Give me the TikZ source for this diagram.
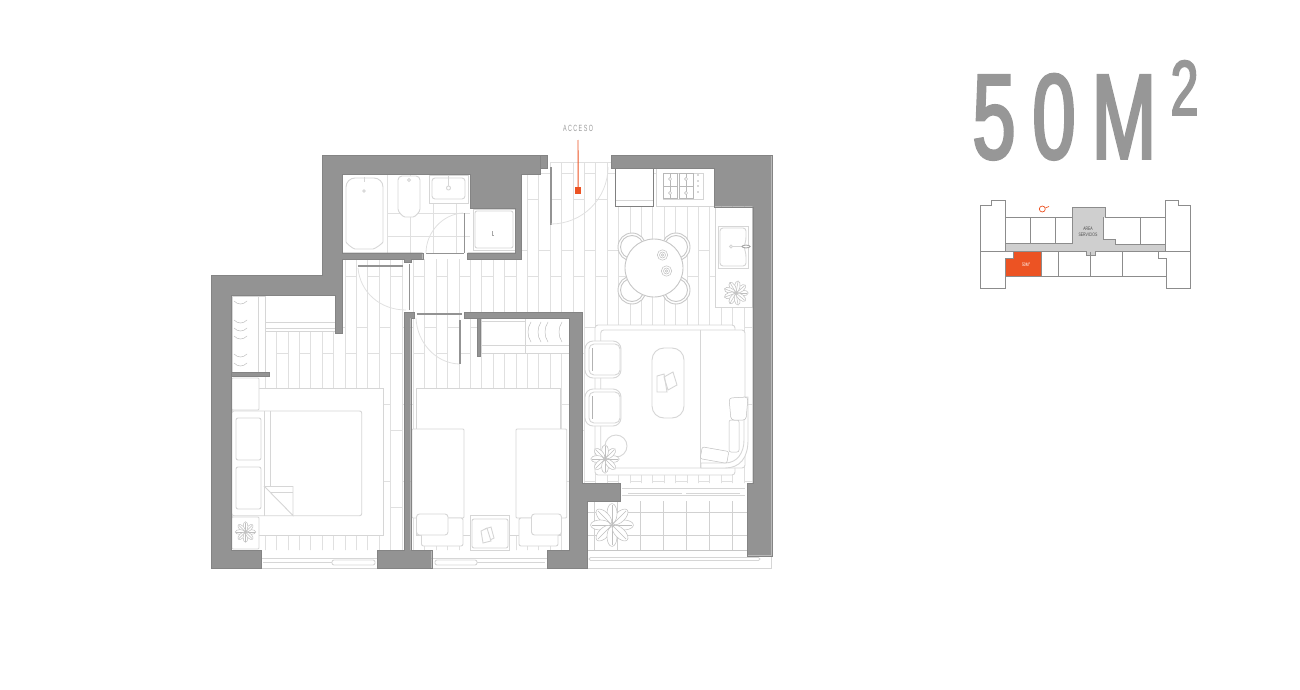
\documentclass[tikz,border=0pt]{standalone}
\usepackage{fontspec}
\setmainfont{Liberation Sans}
\newfontfamily\titlefont[FakeStretch=0.64,FakeBold=2.4]{Liberation Sans}
\newfontfamily\narrowfont[FakeStretch=0.6,LetterSpace=16]{Liberation Sans}
\newfontfamily\keyfont[FakeStretch=0.7]{Liberation Sans}
\definecolor{wallgray}{HTML}{939393}
\definecolor{titlegray}{HTML}{979797}
\definecolor{boardgray}{HTML}{E0E0E0}
\definecolor{furngray}{HTML}{D6D6D6}
\definecolor{keygray}{HTML}{8C8C8C}
\definecolor{servgray}{HTML}{CFCFCF}
\definecolor{accent}{HTML}{EC5323}
\tikzset{
  wall/.style={fill=wallgray, draw=wallgray!90!black, line width=0.4pt},
  board/.style={draw=boardgray, line width=1pt},
  furn/.style={draw=furngray, fill=white, line width=0.9pt},
  furnline/.style={draw=furngray, line width=0.9pt},
  doorleaf/.style={draw=wallgray, line width=1.6pt},
  doorarc/.style={draw=boardgray, line width=0.8pt},
  plantline/.style={draw=black!25, fill=white, line width=0.5pt},
  keyline/.style={draw=keygray, line width=0.9pt},
  titletext/.style={text=titlegray, anchor=base, inner sep=0pt},
}
\newcommand{\plantmark}[4]{%
  \foreach \a in {0,#4,...,359}{
    \draw[plantline, rotate around={\a:(#1,#2)}] (#1+#3*0.55,#2) ellipse ({#3*0.47} and {#3*0.24});
    \draw[plantline, rotate around={\a:(#1,#2)}] (#1,#2) -- (#1+#3*0.95,#2);
  }
}
\begin{document}
\begin{tikzpicture}[x=1pt, y=-1pt]
  \useasboundingbox (0,0) rectangle (1300,690);
  % Floor boards:
  \begin{scope}
    \clip (265,330) -- (342,330) -- (342,259) -- (521,259) -- (521,162) -- (752,162) -- (752,483) -- (582,483) -- (582,550) -- (265,550) -- cycle;
    \foreach \i in {-7,...,35}{
      \pgfmathsetmacro{\xa}{345+11.4*\i}
      \pgfmathsetmacro{\xb}{\xa+11.4}
      \pgfmathtruncatemacro{\oddi}{mod(abs(\i),2)}
      \pgfmathsetmacro{\ya}{\oddi==1 ? 173 : 199}
      \draw[board] (\xa,160) -- (\xa,552);
      \foreach \k in {0,...,5}{
        \draw[board] (\xa,\ya+77*\k) -- (\xb,\ya+77*\k);
      }
    }
    \draw[board] (550,162) -- (612,162);
  \end{scope}
  % Bathroom tiles and fittings:
  \foreach \x in {387.5,410.5,433,456.5}{ \draw[board] (\x,175) -- (\x,253); }
  \foreach \y in {213,236.5}{ \draw[board] (387.5,\y) -- (470,\y); }
  \draw[furn, rounded corners=9pt] (346,178) -- (383,178) -- (383,233) .. controls (383,243) and (375,249) .. (364,249) .. controls (353,249) and (346,243) .. (346,233) -- cycle;
  \draw[furnline] (364,177) -- (364,182);
  \draw[furn] (364,191) circle (1.3);
  \draw[furn, rounded corners=4pt] (398,176) -- (420,176) -- (420,205) .. controls (420,212) and (415,217) .. (409,217) .. controls (403,217) and (398,212) .. (398,205) -- cycle;
  \draw[furn] (409,180) circle (1.5);
  \draw[furn] (429,175) rectangle (468,203);
  \draw[furn, rounded corners=3pt] (432,178) rectangle (465,199);
  \draw[furn] (448.5,188) circle (2);
  \draw[furnline] (448.5,175) -- (448.5,186);
  % Kitchen:
  \draw[furn] (715,207) rectangle (752,307);
  \draw[furn] (718,226) rectangle (748,268);
  \draw[furn, rounded corners=3pt] (720,228) -- (746,228) -- (746,240) -- (744,247) -- (746,254) -- (746,266) -- (720,266) -- cycle;
  \draw[furn] (731,246.5) circle (1.6);
  \draw[furnline] (733,246.5) -- (751,246.5);
  \draw[furn, draw=black!35] (746,246.5) ellipse (4 and 1.4);
  \plantmark{736}{293}{12}{40}
  \draw[furn] (656,168) rectangle (714,206);
  \draw[furnline] (663,173) rectangle (703,199);
  \foreach \x in {663,679}{
    \draw[furn, draw=black!28, line width=0.6pt] (\x,173.5) rectangle (\x+14,198);
    \draw[furnline, draw=black!28, line width=0.5pt] (\x,186) -- (\x+14,186);
    \draw[furnline, draw=black!28, line width=0.5pt] (\x+7,174) -- (\x+7,198);
    \foreach \y in {179,193}{ \draw[furn, draw=black!28, line width=0.5pt] (\x+7,\y) circle (1.6); }
  }
  \foreach \y in {175,181,186,192}{ \fill[black!30] (698,\y) circle (0.9); }
  \draw[furn, draw=black!50] (615.7,168) rectangle (653,206);
  \draw[furnline] (616,200) -- (653,200);
  % Dining set:
  \foreach \x/\y in {632/247,676/247,632/290,676/290}{
    \draw[furn, draw=black!22] (\x,\y) circle (14);
    \draw[furn, draw=black!22] (\x,\y) circle (11.5);
  }
  \draw[furn, draw=black!22] (654,268) circle (29);
  \foreach \x/\y in {662.5/255,666.5/271}{
    \draw[plantline] (\x,\y) circle (5.2);
    \draw[plantline] (\x,\y) circle (3);
    \draw[plantline] (\x,\y) circle (1.2);
  }
  % Living room:
  \draw[furn, rounded corners=3pt] (595,325) -- (595,475) -- (735,475) -- (735,325) -- cycle;
  \draw[furn, rounded corners=3pt] (600.7,330) rectangle (745,468);
  \draw[furnline] (700.7,330) -- (700.7,468);
  \draw[furn] (701,468) -- (725,468) .. controls (740,468) and (748,458) .. (748,440) -- (748,397) -- (744,397) -- (744,440) .. controls (744,453) and (737,463) .. (725,463) -- (701,463) -- cycle;
  \draw[plantline, rounded corners=2pt, rotate around={-10:(714,455)}] (701,449) rectangle (728,461);
  \draw[plantline, rounded corners=2pt] (729,420) rectangle (739,452);
  \draw[plantline, rounded corners=3pt] (729,398) -- (748,397) -- (746,420) -- (731,420) -- cycle;
  \draw[furn, rounded corners=12pt] (652,348) rectangle (684,418);
  \draw[furnline] (657,376) -- (664,374) -- (667,392) -- (657,392) -- cycle;
  \draw[furnline] (664,377) -- (673,372) -- (677,385) -- (668,390) -- cycle;
  \foreach \y in {341,389}{
    \draw[furn, rounded corners=8pt] (585,\y) rectangle (621,\y+37);
    \draw[furnline, rounded corners=5pt] (589,\y+3) rectangle (620,\y+34);
    \draw[furnline, draw=black!30, line width=0.6pt] (592,\y+7) -- (592,\y+30);
  }
  \draw[furn] (616,446) circle (11);
  \plantmark{605}{459}{14}{45}
  % First bedroom:
  \draw[furn] (232,388) rectangle (383,535);
  \draw[furn, rounded corners=1pt] (232,378) rectangle (259,410);
  \draw[furn, rounded corners=1pt] (232,517) rectangle (259,549);
  \draw[furn, rounded corners=2pt] (232,411) rectangle (361.7,515.7);
  \draw[furnline] (264,411) -- (264,515.7);
  \draw[furnline] (270.7,411) -- (270.7,486.5);
  \draw[furn, rounded corners=2pt] (236,418) rectangle (261,460);
  \draw[furn, rounded corners=2pt] (236,467) rectangle (261,509);
  \draw[furnline] (264.5,486.5) -- (293,486.5) -- (293,515.5) -- cycle;
  \draw[furnline] (270,492) -- (293,492);
  \plantmark{245.5}{532}{10}{45}
  % Second bedroom:
  \draw[furn] (416.7,388) rectangle (560.7,535);
  \draw[furn, rounded corners=1pt] (412,429) rectangle (464,518);
  \draw[furn, rounded corners=1pt] (516,429) rectangle (566.7,518);
  \foreach \xa/\xb/\xc/\xd in {421.5/463/416.5/448, 519/558/531.5/561.5}{
    \draw[furn, rounded corners=2pt] (\xa,518) rectangle (\xb,546);
    \draw[furn, rounded corners=3pt] (\xc,514) rectangle (\xd,535);
  }
  \draw[furn] (470,515) rectangle (509,550);
  \draw[furn, rounded corners=2pt] (472,519) rectangle (508,548);
  \draw[furnline] (481,531) -- (487,528) -- (491,541) -- (483,543) -- cycle;
  \draw[furnline] (485,529) -- (491,527) -- (494,538) -- (490,540);
  % Closets:
  \draw[furn] (481,318) rectangle (569,353);
  \draw[furnline] (481,345) -- (569,345);
  \draw[furnline] (525,318) -- (525,353);
  \draw[furnline] (481,321) -- (525,321);
  \foreach \x in {531,541,548,562}{
    \draw[plantline, fill=none] (\x,322) .. controls (\x-4,328) and (\x-4,336) .. (\x,342);
  }
  \draw[furn] (232,296) rectangle (265,372);
  \draw[furnline] (258,296) -- (258,372);
  \foreach \y in {303,322,330,338,356,365}{
    \draw[plantline, fill=none] (234,\y-2) .. controls (238,\y+2) and (243,\y+2) .. (247,\y-2);
  }
  \draw[furn] (265,322) rectangle (335,331);
  \draw[furnline] (265,328) -- (335,328);
  \draw[furn] (473,209) rectangle (515,250);
  \draw[furnline, rounded corners=2pt] (475,211) rectangle (513,248);
  \draw[furnline, draw=black!35, line width=0.6pt] (492,231) -- (492,235) -- (494,235);
  % Terrace and windows:
  \foreach \x in {594,617,640,663,686,709,732}{ \draw[board, draw=black!18] (\x,501) -- (\x,550); }
  \foreach \y in {512,535}{ \draw[board, draw=black!18] (587,\y) -- (747,\y); }
  \draw[board, draw=black!22] (587,550) -- (747,550);
  \plantmark{612}{525}{21}{45}
  \draw[furnline] (587,568) -- (771.5,568) -- (771.5,555);
  \draw[furnline, rounded corners=1.5pt] (589,557.5) rectangle (760,560.5);
  \draw[furnline] (261,568) -- (377,568);
  \draw[furnline] (431,568) -- (547,568);
  \draw[furnline] (261,558) -- (377,558);
  \draw[furnline] (431,558) -- (547,558);
  \draw[furnline] (263,562.5) -- (332,562.5);
  \draw[furnline, rounded corners=2pt] (332,560) rectangle (375,565);
  \draw[furnline, rounded corners=2pt] (435,560) rectangle (477,565);
  \draw[furnline] (477,562.5) -- (545,562.5);
  \draw[furnline] (622,488) -- (745,488);
  \draw[furnline] (622,495) -- (745,495);
  \draw[furnline] (628,493) -- (682,493);
  \draw[furnline] (686,493) -- (740,493);
  % Walls:
  \draw[wall] (322,155) -- (540,155) -- (540,174) -- (521,174) -- (521,259) -- (467.5,259) -- (467.5,252.7) -- (515,252.7) -- (515,208.5) -- (470,208.5) -- (470,174.5) -- (342,174.5) -- (342,252.7) -- (422.7,252.7) -- (422.7,259) -- (411,259) -- (411,262) -- (404,262) -- (404,259) -- (342,259) -- (342,333) -- (335,333) -- (335,295) -- (231,295) -- (231,550) -- (261,550) -- (261,568.5) -- (211,568.5) -- (211,275) -- (322,275) -- cycle;
  \draw[wall] (540,155) rectangle (547,168.3);
  \draw[wall] (404,312) -- (414,312) -- (414,318) -- (410.7,318) -- (410.7,550) -- (431.7,550) -- (431.7,568.5) -- (377,568.5) -- (377,550) -- (404,550) -- cycle;
  \draw[wall] (464,312) -- (582,312) -- (582,483) -- (620,483) -- (620,501) -- (587,501) -- (587,568.5) -- (547,568.5) -- (547,550) -- (569,550) -- (569,318) -- (464,318) -- cycle;
  \draw[wall] (611,155) -- (771.7,155) -- (771.7,555.7) -- (747,555.7) -- (747,483) -- (752.7,483) -- (752.7,206.7) -- (714,206.7) -- (714,168.3) -- (611,168.3) -- cycle;
  \draw[wall] (231,372) rectangle (269,376);
  \draw[wall] (477,318) rectangle (480.5,356);
  % Doors:
  \draw[doorleaf, line width=2.4pt] (551,167) -- (551,225);
  \draw[doorarc] (551,224) .. controls (582.5,224) and (608,198.5) .. (608,167);
  \draw[doorleaf] (358,266) -- (403,266);
  \draw[doorleaf, line width=1pt] (409,264) -- (409,310);
  \draw[doorarc] (358,268) .. controls (360,292) and (380,310) .. (406,310);
  \draw[doorleaf] (416.5,314) -- (461.5,314);
  \draw[doorleaf, line width=2.2pt] (460,320) -- (460,364);
  \draw[doorarc] (416,318) .. controls (417,342) and (435,363) .. (459,364);
  \draw[doorleaf, line width=1pt] (426,253) -- (464,253);
  \draw[doorleaf, line width=1pt] (464,213) -- (464,253);
  \draw[doorarc] (426,253) .. controls (426,232) and (443,214) .. (463,213);
  % Access mark:
  \node[font=\narrowfont\fontsize{9}{9}\selectfont, text=black!40, inner sep=0pt] (AccesoLabel) at (578,128) {ACCESO};
  \node[fill=accent, inner sep=0pt, minimum size=6.5pt] (AccesoDot) at (578.2,190.5) {};
  \coordinate (AccesoTop) at (578,140);
  \draw[accent, line width=0.9pt] (AccesoTop) -- (AccesoDot);
  % Title:
  \node[titletext, font=\titlefont\fontsize{121}{121}\selectfont] (T1) at (994,158.5) {5};
  \node[titletext, font=\titlefont\fontsize{121}{121}\selectfont] (T2) at (1054,158.5) {0};
  \node[titletext, font=\titlefont\fontsize{121}{121}\selectfont] (T3) at (1124,158.5) {M};
  \node[titletext, font=\titlefont\fontsize{78}{78}\selectfont] (T4) at (1184.5,115) {2};
  % Key plan:
  \fill[servgray] (1072.7,207.3) -- (1105,207.3) -- (1105,217.3) -- (1103.3,217.3) -- (1103.3,239.3) -- (1115.7,239.3) -- (1115.7,244) -- (1165.7,244) -- (1165.7,251) -- (1095,251) -- (1095,255.3) -- (1086,255.3) -- (1086,251) -- (1005.7,251) -- (1005.7,244) -- (1072.7,244) -- cycle;
  \fill[accent] (1013.3,251) -- (1041.7,251) -- (1041.7,276.7) -- (1005,276.7) -- (1005,258.3) -- (1013.3,258.3) -- cycle;
  \draw[keyline] (1005.5,217.3) -- (1072.7,217.3) -- (1072.7,207.3) -- (1105,207.3) -- (1105,217.3) -- (1165.7,217.3);
  \draw[keyline] (980,251.5) -- (980,205) -- (991.7,205) -- (991.7,200) -- (1005.5,200) -- (1005.5,251.5) -- (1086,251.5) -- (1086,255.3) -- (1095,255.3) -- (1095,251.5) -- (1165.7,251.5) -- (1165.7,200) -- (1178,200) -- (1178,205) -- (1190,205) -- (1190,288.3) -- (1166.7,288.3) -- (1166.7,276.7) -- (1005,276.7) -- (1005,288.3) -- (980,288.3) -- cycle;
  \draw[keyline] (980,251.5) -- (1013.3,251.5) -- (1013.3,258.3) -- (1005,258.3) -- (1005,276.7);
  \draw[keyline] (1158,251.5) -- (1158,258.3) -- (1166.7,258.3) -- (1166.7,276.7);
  \draw[keyline] (1165.7,251.5) -- (1190,251.5);
  \draw[keyline] (1005.5,243.7) -- (1072.7,243.7) -- (1072.7,217.3);
  \draw[keyline] (1103.3,217.3) -- (1103.3,239.3) -- (1115.7,239.3) -- (1115.7,244) -- (1165.7,244);
  \foreach \x in {1030.7,1055.7}{ \draw[keyline] (\x,217.3) -- (\x,243.7); }
  \draw[keyline] (1140.7,217.3) -- (1140.7,244);
  \foreach \x in {1041.7,1058.3,1090,1122.3}{ \draw[keyline] (\x,251.5) -- (\x,276.7); }
  \node[font=\keyfont\fontsize{5}{6}\selectfont, text=black!70, align=center, inner sep=0pt] (ServiceLabel) at (1088,232) {AREA\\SERVICIOS};
  \node[font=\keyfont\fontsize{5}{6}\selectfont, text=white, inner sep=0pt] (FlatLabel) at (1026,264.5) {50M\raisebox{1.5pt}{\fontsize{3}{3}\selectfont 2}};
  \node[draw=accent, circle, line width=0.7pt, inner sep=0pt, minimum size=6pt] (NorthMark) at (1042.3,209) {};
  \coordinate (NorthTip) at (1049,206.5);
  \draw[accent, line width=0.7pt] (NorthMark) -- (NorthTip);
\end{tikzpicture}
\end{document}
